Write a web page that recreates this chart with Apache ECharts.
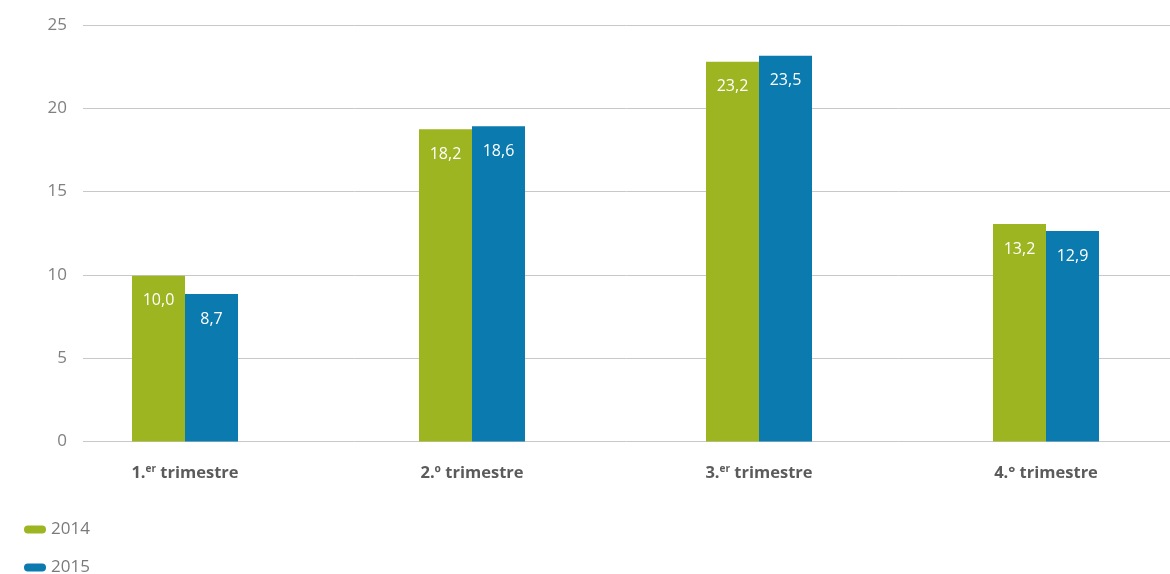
<!DOCTYPE html>
<html>
<head>
<meta charset="utf-8">
<script src="https://cdn.jsdelivr.net/npm/echarts@6/dist/echarts.min.js"></script>
<style>
html,body{margin:0;padding:0;background:#fff;}
#chart{width:1170px;height:574px;}
</style>
</head>
<body>
<div id="chart"></div>
<script>
// Data
const categories = ['1.er trimestre', '2.º trimestre', '3.er trimestre', '4.° trimestre'];
const seriesNames = ['2014', '2015'];
// bar heights as drawn
const values2014 = [9.95, 18.75, 22.8, 13.05];
const values2015 = [8.85, 18.93, 23.15, 12.63];
// printed value labels
const labels2014 = ['10,0', '18,2', '23,2', '13,2'];
const labels2015 = ['8,7', '18,6', '23,5', '12,9'];
const yTicks = [0, 5, 10, 15, 20, 25];

const green = '#9cb521';
const blue = '#0a7aaf';
const font = '"Open Sans", "Noto Sans", sans-serif';

const chart = echarts.init(document.getElementById('chart'));

function catFormatter(v) {
  const m = v.match(/^(\d\.)(er)(.*)$/);
  if (m) return '{b|' + m[1] + '}{sup|' + m[2] + '}{b|' + m[3] + '}';
  return '{b|' + v + '}';
}

const pill = 'path://M4,0 L18,0 A4,4 0 0 1 18,8 L4,8 A4,4 0 0 1 4,0 Z';
const legendBase = {
  orient: 'vertical',
  left: 24,
  padding: 0,
  itemWidth: 22,
  itemHeight: 8,
  icon: pill,
  textStyle: { color: '#7a7a7a', fontSize: 17, fontFamily: font }
};

chart.setOption({
  animation: false,
  textStyle: { fontFamily: font },
  grid: [
    { left: 83, width: 1087, top: 25, height: 416.5, outerBoundsMode: 'none' },
    { left: 41.5, width: 1148, top: 25, height: 416.5, outerBoundsMode: 'none' }
  ],
  legend: [
    Object.assign({}, legendBase, { top: 521, data: [seriesNames[0]] }),
    Object.assign({}, legendBase, { top: 559, data: [seriesNames[1]] })
  ],
  xAxis: [
    { gridIndex: 0, type: 'category', data: categories, show: false },
    {
      gridIndex: 1,
      type: 'category',
      data: categories,
      axisLine: { show: false },
      axisTick: { show: false },
      axisLabel: {
        margin: 23,
        formatter: catFormatter,
        rich: {
          b: { fontSize: 16.5, fontWeight: 'bold', color: '#5b5b5b', fontFamily: font },
          sup: { fontSize: 10, fontWeight: 'bold', color: '#5b5b5b', fontFamily: font, verticalAlign: 'top', padding: [0, 0, 8, 0] }
        }
      }
    }
  ],
  yAxis: [
    {
      gridIndex: 0,
      type: 'value',
      min: 0,
      max: 25,
      interval: 5,
      axisLine: { show: false },
      axisTick: { show: false },
      axisLabel: { margin: 16, fontSize: 17, color: '#808080', fontFamily: font },
      splitLine: { lineStyle: { color: '#c8c8c8', width: 1 } }
    },
    {
      gridIndex: 1,
      type: 'value',
      min: 0,
      max: 25,
      interval: 5,
      show: false,
      splitLine: { show: false }
    }
  ],
  series: [
    {
      name: seriesNames[0],
      type: 'bar',
      xAxisIndex: 1,
      yAxisIndex: 1,
      data: values2014,
      barWidth: 53,
      barGap: '0%',
      itemStyle: { color: green },
      label: {
        show: true,
        position: 'insideTop',
        distance: 17,
        color: '#fff',
        fontSize: 16,
        fontFamily: font,
        formatter: p => labels2014[p.dataIndex]
      }
    },
    {
      name: seriesNames[1],
      type: 'bar',
      xAxisIndex: 1,
      yAxisIndex: 1,
      data: values2015,
      barWidth: 53,
      barGap: '0%',
      itemStyle: { color: blue },
      label: {
        show: true,
        position: 'insideTop',
        distance: 17,
        color: '#fff',
        fontSize: 16,
        fontFamily: font,
        formatter: p => labels2015[p.dataIndex]
      }
    }
  ]
});
</script>
</body>
</html>
